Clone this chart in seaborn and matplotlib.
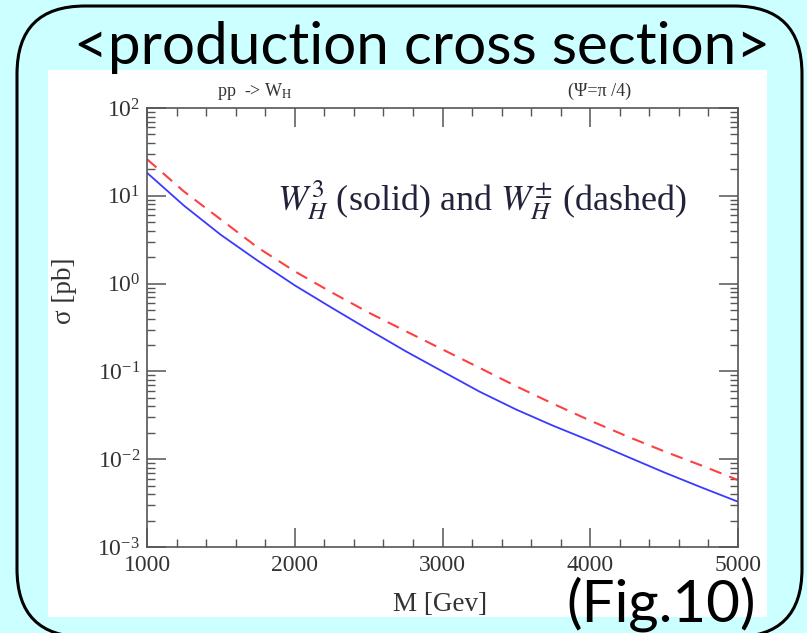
import numpy as np
import pandas as pd
import matplotlib
matplotlib.use("Agg")
import matplotlib.pyplot as plt
import seaborn as sns
from matplotlib.patches import FancyBboxPatch, Rectangle
from matplotlib.ticker import MultipleLocator, LogLocator, NullFormatter, FixedLocator

# ---- data ----
mass = [1000, 1250, 1500, 1750, 2000, 2250, 2500, 2750, 3000,
        3250, 3500, 3750, 4000, 4250, 4500, 4750, 5000]
sigma_w3 = [18.3, 7.73, 3.59, 1.82, 0.955, 0.531, 0.299, 0.170, 0.100,
            0.0589, 0.0367, 0.0240, 0.0162, 0.0107, 0.00708, 0.00479, 0.00328]   # solid
sigma_wpm = [26.1, 11.2, 5.37, 2.57, 1.38, 0.794, 0.468, 0.288, 0.178,
             0.110, 0.0676, 0.0427, 0.0275, 0.0182, 0.0123, 0.00851, 0.00579]    # dashed
x_ticks = [1000, 2000, 3000, 4000, 5000]

sns.set_theme(style="ticks")
plt.rcParams["font.family"] = ["Liberation Serif", "DejaVu Serif"]
plt.rcParams["mathtext.fontset"] = "stix"

W, H = 807, 633
fig = plt.figure(figsize=(W / 100, H / 100), dpi=100)
fig.patch.set_facecolor("#ccffff")

# background layer in pixel coordinates
bg = fig.add_axes([0, 0, 1, 1], zorder=0)
bg.set_xlim(0, W)
bg.set_ylim(H, 0)
bg.axis("off")
bg.add_patch(FancyBboxPatch((17, 6), 785, 631,
                            boxstyle="round,pad=0,rounding_size=68",
                            facecolor="#ccffff", edgecolor="black", linewidth=2.2))
bg.add_patch(Rectangle((48, 70), 719, 547, facecolor="white", edgecolor="none"))
bg.text(422, 47, "<production cross section>", ha="center", va="center",
        fontsize=42, family=["Lato", "DejaVu Sans"], color="black")
bg.text(661, 604, "(Fig.10)", ha="center", va="center",
        fontsize=42, family=["Lato", "DejaVu Sans"], color="black")
bg.text(255, 91, r"pp  -> W$_{\rm H}$", ha="center", va="center", fontsize=13, color="#333333")
bg.text(600, 91, "(Ψ=π /4)", ha="center", va="center", fontsize=13, color="#333333")

# ---- main plot ----
ax = fig.add_axes([147 / W, 1 - 547 / H, (738 - 147) / W, (547 - 108) / H], zorder=1)
ax.set_facecolor("white")
df3 = pd.DataFrame({"M": mass, "sigma": sigma_w3})
dfp = pd.DataFrame({"M": mass, "sigma": sigma_wpm})
sns.lineplot(data=df3, x="M", y="sigma", ax=ax, color="#3a3aff", linewidth=1.3)
sns.lineplot(data=dfp, x="M", y="sigma", ax=ax, color="#ff4040", linewidth=1.5,
             linestyle=(0, (6, 4)))
ax.set_yscale("log")
ax.set_xlim(1000, 5000)
ax.set_ylim(1e-3, 1e2)
ax.xaxis.set_major_locator(FixedLocator(x_ticks))
ax.xaxis.set_minor_locator(MultipleLocator(200))
ax.yaxis.set_major_locator(LogLocator(base=10, numticks=10))
ax.yaxis.set_minor_locator(LogLocator(base=10, subs=np.arange(2, 10), numticks=20))
ax.yaxis.set_minor_formatter(NullFormatter())
ax.tick_params(which="both", direction="in", top=True, right=True, color="#555555",
               labelcolor="#333333", labelsize=17)
ax.tick_params(which="major", length=14, width=1.1)
ax.tick_params(which="minor", length=6, width=1.0)
ax.tick_params(axis="x", pad=6)
ax.tick_params(axis="y", pad=5)
for s in ax.spines.values():
    s.set_color("#555555")
    s.set_linewidth(1.2)

ax.set_xlabel("M [Gev]", fontsize=19.5, color="#333333")
ax.xaxis.label.set_va("center")
ax.xaxis.set_label_coords(0.496, -0.132)
ax.set_ylabel("σ [pb]", fontsize=19.5, color="#333333")
ax.yaxis.label.set_va("center")
ax.yaxis.set_label_coords(-0.140, 0.583)

ax.text(277, 200, r"$W_H^3$ (solid) and $W_H^{\pm}$ (dashed)", transform=bg.transData,
        fontsize=26, color="#22223a", ha="left", va="center")

fig.savefig("out.png", dpi=100, facecolor=fig.get_facecolor())
